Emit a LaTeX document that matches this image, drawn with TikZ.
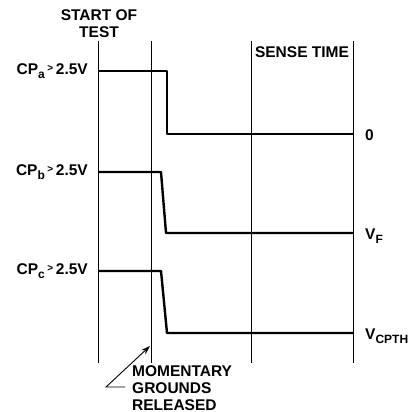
\documentclass[tikz,border=0pt]{standalone}
\usepackage{fontspec}
\setmainfont{Liberation Sans}
\usetikzlibrary{arrows.meta}
\tikzset{
  grid/.style={line width=0.9pt},
  wave/.style={line width=2.4pt, line join=round},
  lbl/.style={font=\fontsize{15.5}{17}\selectfont\bfseries, inner sep=0pt},
  ptr/.style={line width=0.9pt, -{Stealth[length=9pt,width=6pt]}}
}
\newcommand{\gtsym}{\,\raisebox{2.5pt}{\fontsize{10}{10}\selectfont >}\,}
\newcommand{\lowsub}[1]{\raisebox{-4pt}{\fontsize{12}{12}\selectfont #1}}
\begin{document}
\begin{tikzpicture}[x=1pt,y=-1pt]
\useasboundingbox (0,0) rectangle (411,412);
% vertical lines
\foreach \xx/\nm in {98/v1,151/v2,251/v3,353/v4}{
  \coordinate (\nm t) at (\xx,41);
  \coordinate (\nm b) at (\xx,363);
  \draw[grid] (\nm t) -- (\nm b);
}
% waveforms
\draw[wave] (98,71) -- (167,71) -- (167,134) -- (353,134);
\draw[wave] (98,172) -- (161,172) -- (166,233) -- (353,233);
\draw[wave] (98,271) -- (161,271) -- (167,333) -- (353,333);
% labels
\node[lbl, align=center] (start) at (99,24) {START OF\\TEST};
\node[lbl] (sense) at (302,52) {SENSE TIME};
\node[lbl, anchor=east] (cpa) at (88,71) {CP\lowsub{a}\gtsym2.5V};
\node[lbl, anchor=east] (cpb) at (88,172) {CP\lowsub{b}\gtsym2.5V};
\node[lbl, anchor=east] (cpc) at (88,271) {CP\lowsub{c}\gtsym2.5V};
\node[lbl, anchor=west] (zero) at (365,135) {0};
\node[lbl, anchor=west] (vf) at (365,236) {V\lowsub{F}};
\node[lbl, anchor=west] (vc) at (365,336) {V\lowsub{CPTH}};
\node[lbl, anchor=north west, align=left] (mg) at (132,365) {MOMENTARY\\GROUNDS\\RELEASED};
\coordinate (as) at (125,387);
\coordinate (ak) at (106,387);
\coordinate (at) at (150,346);
\draw[ptr] (as) -- (ak) -- (at);
\end{tikzpicture}
\end{document}
